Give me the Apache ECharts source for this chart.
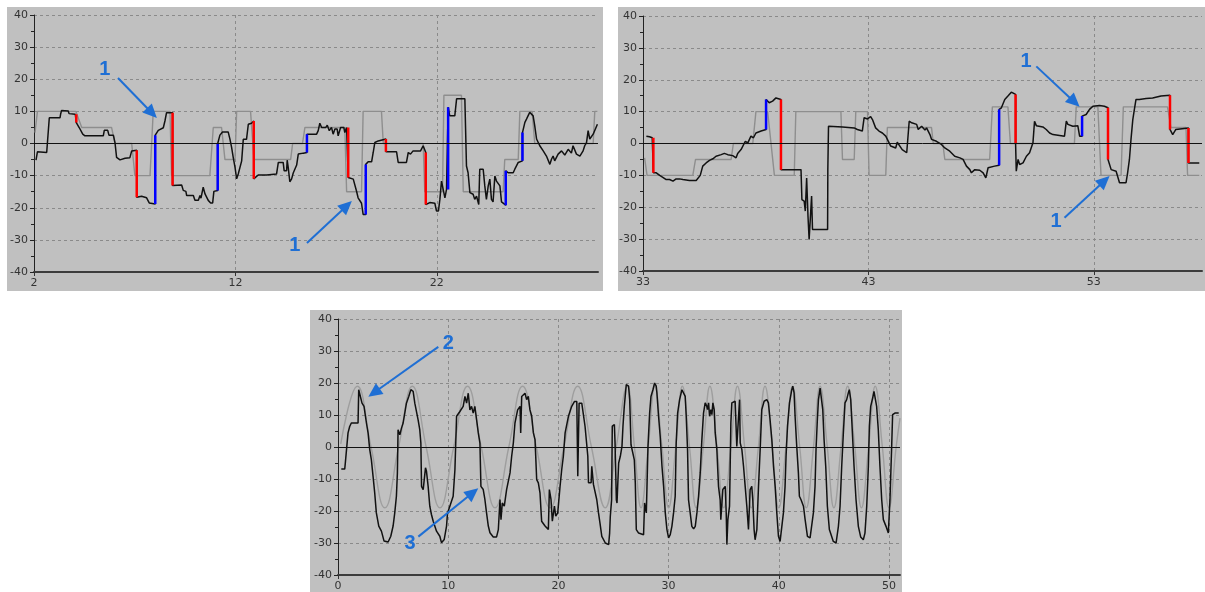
<!DOCTYPE html>
<html><head><meta charset="utf-8">
<script src="https://cdn.jsdelivr.net/npm/echarts@6/dist/echarts.min.js"></script>
<style>html,body{margin:0;padding:0;background:#fff}#c{width:1205px;height:592px}</style>
</head><body><div id="c"></div>
<script>
// ---------- axis ranges / ticks ----------
const p1XRange = [2, 30], p1XInterval = 10;
const p2XRange = [33, 57.8], p2XInterval = 10;
const p3XRange = [0, 51], p3XInterval = 10;
const yRange = [-40, 40], yInterval = 10;

// ---------- panel 1 (top-left) ----------
const p1Reference = [[2.05,3.4],[2.17,10],[4.08,10],[4.37,5],[5.85,5],[6.02,0],[6.85,0],[7.01,-10],[7.76,-10],[7.92,10],[8.75,10],[8.83,-10],[10.73,-10],[10.90,5],[11.31,5],[11.48,-5],[11.98,-5],[12.06,10],[12.75,10],[12.92,-5],[14.74,-5],[14.84,0],[15.33,0],[15.45,5],[17.43,5],[17.52,-15],[18.26,-15],[18.34,10],[19.25,10],[19.34,0],[21.32,0],[21.40,-15],[22.28,-15],[22.35,15],[23.22,15],[23.31,-15],[25.29,-15],[25.37,-5],[26.04,-5],[26.12,10],[26.73,10],[26.86,0],[29.76,0],[29.84,10],[29.97,10]];
const p1Measured = [[2.10,-5.2],[2.17,-2.6],[2.63,-2.8],[2.71,-3.0],[2.76,8.0],[3.29,8.0],[3.32,9.1],[3.37,10.3],[3.70,10.1],[3.74,9.3],[4.05,9.1],[4.10,9.1],[4.10,6.5],[4.25,4.9],[4.42,2.9],[4.53,2.4],[5.44,2.4],[5.49,4.1],[5.66,4.1],[5.72,2.6],[5.94,2.6],[6.02,0.3],[6.10,-4.3],[6.27,-5.1],[6.52,-4.6],[6.76,-4.4],[6.85,-2.3],[7.10,-2.1],[7.10,-16.7],[7.34,-16.4],[7.59,-16.9],[7.72,-18.5],[8.02,-18.8],[8.02,2.6],[8.17,4.1],[8.42,4.9],[8.50,7.0],[8.58,9.6],[8.88,9.6],[8.88,-13.1],[9.33,-12.9],[9.41,-14.6],[9.54,-14.9],[9.58,-16.2],[9.91,-16.2],[9.99,-17.7],[10.16,-17.7],[10.24,-16.2],[10.29,-17.0],[10.37,-17.0],[10.40,-13.6],[10.49,-15.7],[10.65,-17.7],[10.77,-18.5],[10.87,-18.5],[10.93,-14.9],[11.12,-14.6],[11.12,0],[11.23,2.6],[11.36,3.6],[11.64,3.6],[11.73,1.3],[11.81,-1.2],[11.89,-4.3],[11.98,-7.4],[12.06,-11.0],[12.14,-9.5],[12.22,-9.0],[12.31,-5.4],[12.39,1.3],[12.55,1.3],[12.64,6.0],[12.80,6.3],[12.91,7.0],[12.91,-11.0],[13.13,-9.8],[13.55,-9.8],[13.63,-9.5],[14.04,-9.5],[14.13,-5.9],[14.37,-5.9],[14.42,-8.5],[14.54,-8.5],[14.57,-5.2],[14.62,-7.4],[14.70,-11.9],[14.79,-11.0],[14.87,-9.2],[15.04,-6.7],[15.12,-3.3],[15.37,-3.0],[15.55,-2.8],[15.55,2.9],[16.03,2.9],[16.11,4.0],[16.19,6.3],[16.28,5.0],[16.49,5.0],[16.56,5.7],[16.66,4.0],[16.77,5.0],[16.85,2.9],[16.94,4.5],[17.05,4.5],[17.10,2.4],[17.22,5.0],[17.38,5.0],[17.43,3.4],[17.52,5.0],[17.60,5.0],[17.60,-10.6],[17.68,-11.1],[17.85,-11.1],[17.93,-11.7],[18.01,-14.8],[18.09,-16.9],[18.18,-17.1],[18.26,-18.6],[18.34,-22.1],[18.47,-22.1],[18.47,-6.5],[18.59,-5.7],[18.76,-5.7],[18.84,-2.8],[18.92,0.3],[19.09,0.8],[19.47,1.4],[19.47,-2.6],[20.00,-2.6],[20.08,-5.9],[20.49,-5.9],[20.58,-2.8],[20.69,-3.3],[20.82,-2.3],[21.19,-2.3],[21.24,-2.8],[21.32,-0.7],[21.45,-2.8],[21.45,-19.0],[21.65,-18.4],[21.90,-18.6],[21.98,-21.0],[22.08,-21.0],[22.15,-17.4],[22.23,-11.7],[22.31,-12.2],[22.40,-16.9],[22.48,-14.3],[22.56,-14.3],[22.56,11.3],[22.64,8.6],[22.89,8.6],[22.98,13.9],[23.39,13.9],[23.47,-7.0],[23.55,-9.1],[23.64,-15.3],[23.80,-15.8],[23.88,-17.4],[23.97,-16.4],[24.08,-19.0],[24.13,-8.0],[24.30,-8.0],[24.38,-13.2],[24.46,-17.4],[24.55,-13.2],[24.63,-11.1],[24.71,-17.4],[24.79,-18.2],[24.88,-10.1],[24.96,-11.7],[25.13,-13.2],[25.21,-18.2],[25.42,-19.2],[25.42,-8.5],[25.54,-9.1],[25.79,-9.1],[25.87,-8.0],[26.04,-5.9],[26.25,-5.4],[26.25,3.4],[26.37,6.6],[26.45,7.6],[26.61,9.7],[26.78,8.6],[26.86,5.5],[26.95,1.4],[27.11,-0.7],[27.28,-2.3],[27.44,-3.9],[27.61,-6.5],[27.69,-4.9],[27.77,-3.9],[27.85,-5.4],[28.02,-3.3],[28.19,-2.3],[28.35,-3.6],[28.52,-1.8],[28.68,-3.0],[28.76,-0.7],[28.93,-3.3],[29.10,-3.9],[29.26,-2.3],[29.34,-0.7],[29.43,0.3],[29.51,4.0],[29.59,1.4],[29.76,2.9],[29.97,6.0]];
// [x, fromY, toY]
const p1Red = [[4.10,9.1,6.5],[7.10,-2.1,-16.7],[8.88,9.6,-13.1],[12.91,7.0,-11.0],[17.60,5.0,-10.6],[19.47,1.4,-2.6],[21.45,-2.8,-19.0]];
const p1Blue = [[8.02,-18.8,2.6],[11.12,-14.6,0.0],[15.55,-2.8,2.9],[18.47,-22.1,-6.5],[22.56,-14.3,11.3],[25.42,-19.2,-8.5],[26.25,-5.4,3.4]];

// ---------- panel 2 (top-right) ----------
const p2Reference = [[33.07,-4.5],[33.18,-10],[35.21,-10],[35.33,-5],[36.91,-5],[37.01,0],[37.87,0],[38.01,10],[38.53,10],[38.83,-10],[39.71,-10],[39.78,10],[41.78,10],[41.85,-5],[42.37,-5],[42.44,10],[42.96,10],[43.03,-10],[43.77,-10],[43.84,5],[45.80,5],[45.88,0],[46.30,0],[46.39,-5],[48.38,-5],[48.50,11.5],[49.19,11.5],[49.30,0],[52.14,0],[52.22,11.5],[53.18,11.5],[53.32,-10],[54.21,-10],[54.31,11.5],[56.27,11.5],[56.42,5],[57.09,5],[57.16,-10],[57.68,-10]];
const p2Measured = [[33.15,2.3],[33.29,2.1],[33.41,1.8],[33.46,1.8],[33.46,-9.2],[33.59,-9.2],[33.74,-10.0],[33.88,-10.6],[34.03,-11.3],[34.18,-11.3],[34.33,-11.8],[34.47,-11.1],[34.62,-11.1],[34.77,-11.3],[35.06,-11.6],[35.36,-11.6],[35.43,-11.3],[35.54,-10.0],[35.65,-7.1],[35.80,-6.1],[35.95,-5.3],[36.10,-4.8],[36.24,-4.0],[36.47,-3.5],[36.61,-3.1],[36.76,-3.5],[36.98,-3.8],[37.13,-4.5],[37.20,-3.1],[37.35,-1.9],[37.54,0.7],[37.65,0.2],[37.79,2.3],[37.90,1.8],[38.01,3.3],[38.24,3.9],[38.46,4.4],[38.46,13.8],[38.53,13.8],[38.60,12.8],[38.75,13.3],[38.90,14.3],[39.12,13.8],[39.12,-8.2],[40.01,-8.2],[40.05,-17.6],[40.15,-18.1],[40.20,-21.2],[40.26,-10.8],[40.32,-22.8],[40.37,-30.1],[40.45,-30.1],[40.48,-16.5],[40.52,-27.0],[41.19,-27.0],[41.20,-8.2],[41.23,5.4],[41.85,5.2],[42.37,4.9],[42.41,5.4],[42.51,4.4],[42.73,3.9],[42.81,8.1],[42.96,7.7],[43.10,8.4],[43.18,7.5],[43.32,4.9],[43.47,3.9],[43.62,3.3],[43.77,2.3],[43.84,2.8],[43.99,-0.8],[44.21,-1.4],[44.28,0.4],[44.50,-1.9],[44.70,-2.9],[44.81,7.0],[44.92,6.5],[45.14,6.0],[45.21,4.4],[45.36,5.4],[45.51,4.2],[45.58,4.9],[45.73,2.8],[45.80,1.3],[46.02,0.7],[46.24,-0.3],[46.39,-1.4],[46.61,-2.4],[46.83,-4.0],[47.06,-4.5],[47.20,-5.0],[47.35,-7.1],[47.50,-8.2],[47.57,-9.2],[47.72,-8.2],[47.94,-8.4],[48.09,-9.2],[48.21,-10.8],[48.31,-7.6],[48.60,-7.1],[48.80,-6.8],[48.80,10.7],[48.90,11.2],[49.05,13.8],[49.19,14.9],[49.34,16.1],[49.53,15.4],[49.53,0],[49.56,-8.7],[49.64,-5.0],[49.71,-6.6],[49.86,-6.1],[50.01,-4.0],[50.15,-2.9],[50.23,-2.9],[50.30,0.2],[50.37,7.0],[50.45,5.6],[50.74,5.2],[50.89,4.4],[51.04,3.3],[51.19,2.8],[51.70,2.3],[51.78,7.0],[51.85,6.0],[52.07,5.4],[52.29,5.6],[52.37,2.3],[52.48,2.3],[52.48,8.6],[52.66,9.1],[52.81,10.7],[52.96,11.7],[53.25,11.9],[53.47,11.7],[53.63,11.2],[53.63,-5.0],[53.77,-8.2],[53.99,-8.7],[54.14,-12.3],[54.43,-12.3],[54.50,-9.2],[54.58,-5.0],[54.65,1.3],[54.73,7.5],[54.80,10.7],[54.87,13.8],[55.02,13.8],[55.32,14.1],[55.61,14.3],[55.98,14.9],[56.38,15.1],[56.38,4.4],[56.50,2.8],[56.64,4.4],[57.20,4.9],[57.20,-6.1],[57.68,-6.1]];
const p2Red = [[33.46,1.8,-9.2],[39.12,13.8,-8.2],[49.53,15.4,0],[53.63,11.2,-5.0],[56.38,15.1,4.4],[57.20,4.9,-6.1]];
const p2Blue = [[38.46,4.4,13.8],[48.80,-6.8,10.7],[52.48,2.3,8.6]];

// ---------- panel 3 (bottom) ----------
const p3Reference = [[0.25,1],[1.75,19],[3.0,0],[4.25,-19],[5.5,0],[6.75,19],[8.0,0],[9.25,-19],[10.5,0],[11.75,19],[13.0,0],[14.25,-19],[15.5,0],[16.75,19],[18.0,0],[19.25,-19],[20.5,0],[21.75,19],[23.0,0],[24.25,-19],[25.25,0],[26.25,19],[26.9,0],[27.5,-19],[28.15,0],[28.75,19],[29.4,0],[30.0,-19],[30.65,0],[31.25,19],[31.9,0],[32.5,-19],[33.15,0],[33.75,19],[34.4,0],[35.0,-19],[35.65,0],[36.25,19],[36.9,0],[37.5,-19],[38.15,0],[38.75,19],[39.4,0],[40.0,-19],[40.65,0],[41.25,19],[41.9,0],[42.5,-19],[43.15,0],[43.75,19],[44.4,0],[45.0,-19],[45.65,0],[46.25,19],[46.9,0],[47.5,-19],[48.15,0],[48.75,19],[49.4,0],[50.0,-19],[50.65,0],[51.0,9]];
const p3Measured = [[0.30,-6.9],[0.61,-6.9],[0.67,-4.8],[0.82,-4.8],[0.91,4.4],[1.06,6.4],[1.21,7.5],[1.82,7.5],[1.88,17.9],[2.06,17.4],[2.18,13.7],[2.36,12.7],[2.58,7.5],[2.73,4.4],[2.88,-0.8],[3.03,-4.0],[3.18,-9.1],[3.33,-14.3],[3.48,-20.6],[3.70,-24.7],[3.94,-26.3],[4.18,-29.4],[4.55,-29.7],[4.79,-27.9],[5.00,-24.7],[5.15,-20.6],[5.30,-15.4],[5.39,-8.1],[5.45,5.4],[5.61,3.8],[5.76,5.9],[5.91,7.5],[6.06,10.6],[6.21,13.7],[6.42,15.8],[6.61,17.9],[6.82,17.4],[6.97,13.7],[7.27,8.5],[7.42,5.4],[7.52,1.2],[7.58,-12.3],[7.73,-13.3],[7.88,-13.5],[7.94,-6.5],[8.03,-7.6],[8.18,-12.3],[8.33,-18.5],[8.48,-21.1],[8.64,-23.2],[8.94,-26.3],[9.24,-27.9],[9.39,-29.9],[9.64,-28.9],[9.85,-24.7],[9.94,-20.6],[10.15,-18.5],[10.30,-18.5],[10.45,-15.4],[10.61,-7.1],[10.76,9.6],[11.06,11.1],[11.36,12.7],[11.52,15.8],[11.67,13.7],[11.82,16.8],[11.97,11.6],[12.12,12.7],[12.27,10.6],[12.42,12.7],[12.58,8.5],[12.73,4.4],[12.88,1.2],[12.97,-12.3],[13.18,-13.3],[13.33,-16.4],[13.48,-20.6],[13.64,-24.7],[13.79,-26.8],[14.09,-28.1],[14.39,-28.1],[14.55,-25.8],[14.70,-16.4],[14.79,-22.7],[14.91,-17.5],[15.09,-18.5],[15.30,-13.3],[15.61,-8.1],[15.76,-2.9],[15.91,1.2],[16.06,7.5],[16.30,11.6],[16.52,12.7],[16.58,4.4],[16.67,15.8],[16.97,16.8],[17.12,14.8],[17.27,15.8],[17.42,11.6],[17.58,9.6],[17.73,4.4],[17.88,2.3],[18.03,-10.2],[18.18,-11.2],[18.33,-14.3],[18.48,-23.2],[18.79,-24.7],[19.09,-25.8],[19.18,-13.3],[19.33,-16.4],[19.45,-23.2],[19.64,-18.5],[19.76,-21.6],[19.94,-20.6],[20.15,-12.3],[20.30,-7.1],[20.45,-2.9],[20.61,4.4],[20.91,9.6],[21.21,12.7],[21.45,14.2],[21.67,14.2],[21.76,-9.1],[21.88,13.7],[22.12,13.7],[22.27,10.1],[22.42,6.4],[22.67,-2.9],[22.73,-11.2],[22.97,-11.2],[23.03,-6.0],[23.18,-11.7],[23.33,-12.3],[23.48,-16.4],[23.64,-20.6],[23.79,-24.2],[23.94,-27.9],[24.09,-28.1],[24.26,-30.0],[24.56,-30.5],[24.65,-26.9],[24.71,-21.7],[24.83,-16.5],[24.89,6.5],[25.08,7.0],[25.14,1.3],[25.26,-16.5],[25.32,-17.5],[25.38,-12.3],[25.47,-5.0],[25.62,-2.9],[25.77,0.2],[25.86,6.5],[25.98,12.7],[26.16,19.5],[26.37,19.0],[26.47,14.8],[26.59,0.7],[26.77,0.2],[26.89,-4.0],[26.98,-11.3],[27.07,-25.8],[27.28,-26.9],[27.73,-27.4],[27.82,-17.5],[27.98,-20.6],[28.04,-12.3],[28.13,0.2],[28.28,10.6],[28.40,15.8],[28.58,17.9],[28.73,20.0],[28.88,19.0],[28.94,16.9],[29.09,9.6],[29.24,3.3],[29.40,-6.0],[29.55,-12.3],[29.70,-20.6],[29.85,-25.8],[30.00,-28.4],[30.15,-27.4],[30.30,-24.8],[30.45,-20.6],[30.60,-15.4],[30.69,1.3],[30.82,10.6],[31.00,14.8],[31.21,17.9],[31.36,18.4],[31.51,15.8],[31.60,9.6],[31.72,-0.8],[31.81,-16.5],[31.96,-20.6],[32.11,-24.8],[32.27,-25.6],[32.42,-24.8],[32.57,-20.6],[32.72,-15.4],[32.87,-8.1],[33.02,2.3],[33.17,10.6],[33.32,13.8],[33.47,12.7],[33.53,11.7],[33.63,13.8],[33.72,9.6],[33.84,11.7],[33.93,10.1],[34.02,13.8],[34.14,11.7],[34.23,4.4],[34.38,-0.8],[34.53,-12.3],[34.68,-16.5],[34.74,-22.7],[34.92,-13.3],[35.14,-12.3],[35.23,-20.6],[35.29,-30.5],[35.38,-22.7],[35.53,-18.5],[35.59,-6.0],[35.65,7.5],[35.74,13.8],[36.04,14.3],[36.19,0.2],[36.34,0.2],[36.44,14.8],[36.50,1.3],[36.65,-0.8],[36.80,-6.0],[36.95,-12.3],[37.10,-18.5],[37.25,-25.8],[37.40,-13.3],[37.55,-12.3],[37.64,-16.5],[37.76,-25.8],[37.85,-29.0],[38.01,-25.8],[38.16,-12.3],[38.31,-0.8],[38.46,11.7],[38.67,14.3],[38.91,14.8],[39.06,13.8],[39.21,8.5],[39.37,2.3],[39.52,-6.0],[39.67,-12.3],[39.82,-20.6],[39.97,-27.9],[40.12,-29.5],[40.27,-29.0],[40.42,-20.6],[40.57,-12.3],[40.66,-2.9],[40.79,6.5],[40.97,13.8],[41.18,17.9],[41.27,19.0],[41.39,16.9],[41.48,9.6],[41.63,0.2],[41.78,-8.1],[41.87,-15.4],[42.02,-16.5],[42.24,-18.5],[42.39,-22.7],[42.60,-27.9],[42.84,-28.4],[42.99,-27.9],[43.14,-20.6],[43.29,-12.3],[43.38,-0.8],[43.50,8.5],[43.60,14.8],[43.75,18.4],[43.90,17.9],[43.99,11.7],[44.11,2.3],[44.26,-6.0],[44.41,-18.5],[44.59,-25.8],[44.71,-25.8],[44.95,-29.5],[45.20,-30.0],[45.41,-24.8],[45.56,-18.5],[45.71,-6.0],[45.86,4.4],[46.01,13.8],[46.16,14.8],[46.31,16.9],[46.40,17.9],[46.53,14.8],[46.71,2.3],[46.83,-6.0],[47.01,-16.5],[47.22,-24.8],[47.43,-28.1],[47.67,-29.0],[47.82,-26.9],[47.98,-18.5],[48.13,-6.0],[48.22,6.5],[48.34,12.7],[48.52,15.3],[48.64,17.4],[48.82,16.9],[48.88,12.7],[49.03,5.4],[49.18,-6.0],[49.34,-16.5],[49.49,-22.7],[49.73,-24.8],[49.94,-26.9],[50.09,-16.5],[50.24,-0.3],[50.33,10.1],[50.54,10.6],[50.88,10.6]];

// annotation callouts (data coordinates of each panel)
const annotations = [
  {grid:0, text:'1', label:[5.52,22.9], tail:[6.17,20.4], tip:[8.10,7.9]},
  {grid:0, text:'1', label:[14.95,-31.6], tail:[15.55,-31.0], tip:[17.78,-17.9]},
  {grid:1, text:'1', label:[50.0,25.8], tail:[50.45,24.2], tip:[52.37,11.5]},
  {grid:1, text:'1', label:[51.33,-24.4], tail:[51.70,-23.3], tip:[53.7,-10.2]},
  {grid:2, text:'2', label:[10.0,32.4], tail:[9.1,31.3], tip:[2.75,15.7]},
  {grid:2, text:'3', label:[6.53,-30.1], tail:[7.29,-28.0], tip:[12.73,-12.9]}
];

// ---------- build ----------
const FONT = '"DejaVu Sans", Verdana, sans-serif';
const GRID_COL = '#8a8a8a';
function segData(arr){ const d=[]; arr.forEach(s=>{ d.push([s[0],s[1]],[s[0],s[2]],[s[0],'-']); }); return d; }
function xAxis(gi, range, interval){
  return {type:'value', gridIndex:gi, min:range[0], max:range[1], interval:interval,
    axisLine:{show:true,onZero:false,lineStyle:{color:'#3c3c3c',width:2}},
    axisTick:{show:true,length:4,lineStyle:{color:'#333'}},
    axisLabel:{color:'#333',fontSize:11,fontFamily:FONT,margin:6,showMaxLabel:false},
    splitLine:{show:true,showMinLine:false,showMaxLine:false,lineStyle:{color:GRID_COL,type:[3,3],width:1}}};
}
function yAxis(gi){
  return {type:'value', gridIndex:gi, min:yRange[0], max:yRange[1], interval:yInterval,
    axisLine:{show:true,onZero:false,lineStyle:{color:'#222',width:1}},
    axisTick:{show:true,length:4,lineStyle:{color:'#222'}},
    minorTick:{show:true,splitNumber:2,length:3,lineStyle:{color:'#222'}},
    axisLabel:{color:'#333',fontSize:11,fontFamily:FONT,margin:6},
    splitLine:{show:true,showMinLine:false,lineStyle:{color:GRID_COL,type:[3,3],width:1}}};
}
function lineS(gi, data, color, width, z, extra){
  return Object.assign({type:'line', xAxisIndex:gi, yAxisIndex:gi, data:data, showSymbol:false, symbol:'none',
    lineStyle:{color:color,width:width}, z:z, silent:true, animation:false, connectNulls:false}, extra||{});
}
const zeroLine = {silent:true, symbol:'none', label:{show:false}, animation:false,
  lineStyle:{color:'#111',width:1,type:'solid'}, data:[{yAxis:0}]};

const series = [];
[[p1Reference,p1Measured,p1Red,p1Blue],[p2Reference,p2Measured,p2Red,p2Blue]].forEach((p,gi)=>{
  series.push(lineS(gi,p[0],'#8e8e8e',1.4,2,{markLine:zeroLine}));
  series.push(lineS(gi,p[1],'#111',1.5,3));
  series.push(lineS(gi,segData(p[2]),'#ff0000',2.5,4));
  series.push(lineS(gi,segData(p[3]),'#0000ff',2.5,4));
});
series.push(lineS(2,p3Reference,'#9e9e9e',1.4,2,{smooth:0.45,markLine:zeroLine}));
series.push(lineS(2,p3Measured,'#111',1.5,3));

const chart = echarts.init(document.getElementById('c'), null, {renderer:'canvas'});
const panels = [[7,7,596,284],[618,7,587,284],[310,310,592,282]];
chart.setOption({
  backgroundColor:'#fff', animation:false,
  textStyle:{fontFamily:FONT},
  grid:[
    {left:34, top:15, width:564, height:257},
    {left:643, top:16, width:559, height:255},
    {left:338, top:319, width:562, height:256}
  ],
  xAxis:[xAxis(0,p1XRange,p1XInterval), xAxis(1,p2XRange,p2XInterval), xAxis(2,p3XRange,p3XInterval)],
  yAxis:[yAxis(0),yAxis(1),yAxis(2)],
  series: series,
  graphic: panels.map((r,i)=>({type:'rect', id:'bg'+i, z:-10, silent:true,
    shape:{x:r[0],y:r[1],width:r[2],height:r[3]}, style:{fill:'#c0c0c0'}}))
});

// annotations
const BLUE = '#1f6fd4';
const g = [];
annotations.forEach((a,i)=>{
  const L = chart.convertToPixel({gridIndex:a.grid}, a.label);
  const T = chart.convertToPixel({gridIndex:a.grid}, a.tail);
  const P = chart.convertToPixel({gridIndex:a.grid}, a.tip);
  const dx=P[0]-T[0], dy=P[1]-T[1], len=Math.hypot(dx,dy), ux=dx/len, uy=dy/len;
  const hl=14, hw=6.5;
  const bx=P[0]-ux*hl, by=P[1]-uy*hl;
  g.push({type:'line', id:'al'+i, z:50, silent:true, shape:{x1:T[0],y1:T[1],x2:bx+ux*2,y2:by+uy*2}, style:{stroke:BLUE,lineWidth:2}});
  g.push({type:'polygon', id:'ah'+i, z:50, silent:true, shape:{points:[[P[0],P[1]],[bx-uy*hw,by+ux*hw],[bx+uy*hw,by-ux*hw]]}, style:{fill:BLUE}});
  g.push({type:'text', id:'at'+i, z:50, silent:true, style:{text:a.text, x:L[0], y:L[1], fill:BLUE,
    font:'bold 20px Arial, "Liberation Sans", sans-serif', align:'center', verticalAlign:'middle', textAlign:'center', textVerticalAlign:'middle'}});
});
chart.setOption({graphic:g});
</script></body></html>
